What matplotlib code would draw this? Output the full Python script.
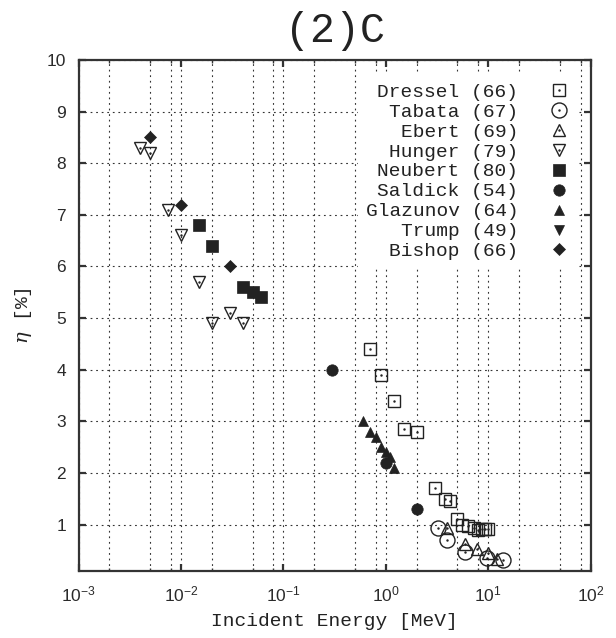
import matplotlib
matplotlib.use('Agg')
import matplotlib.pyplot as plt
from matplotlib.ticker import LogLocator, FixedLocator, NullFormatter
from matplotlib.lines import Line2D
from matplotlib.legend_handler import HandlerTuple

plt.rcParams['font.family'] = ['Liberation Sans', 'DejaVu Sans']
plt.rcParams['mathtext.fontset'] = 'custom'
plt.rcParams['mathtext.rm'] = 'Liberation Sans'
plt.rcParams['mathtext.it'] = 'DejaVu Serif:italic'

# ---------------- data ----------------
dressel_E = [0.7, 0.9, 1.2, 1.5, 2.0, 3.0, 3.8, 4.2, 5.0, 5.6, 6.3, 7.2, 8.0, 8.6, 9.2, 10.0]
dressel_eta = [4.4, 3.9, 3.4, 2.85, 2.8, 1.7, 1.5, 1.45, 1.1, 1.0, 0.97, 0.94, 0.90, 0.91, 0.92, 0.92]

tabata_E = [3.2, 4.0, 6.0, 9.8, 14.0]
tabata_eta = [0.94, 0.70, 0.47, 0.35, 0.32]

ebert_E = [4.0, 5.9, 7.8, 10.0, 12.3]
ebert_eta = [0.93, 0.63, 0.53, 0.45, 0.33]

hunger_E = [0.004, 0.005, 0.0075, 0.01, 0.015, 0.02, 0.03, 0.04]
hunger_eta = [8.3, 8.2, 7.1, 6.6, 5.7, 4.9, 5.1, 4.9]

neubert_E = [0.015, 0.02, 0.04, 0.05, 0.06]
neubert_eta = [6.8, 6.4, 5.6, 5.5, 5.4]

saldick_E = [0.3, 1.0, 2.0]
saldick_eta = [4.0, 2.2, 1.3]

glazunov_E = [0.6, 0.7, 0.8, 0.9, 1.0, 1.1, 1.2]
glazunov_eta = [3.0, 2.8, 2.7, 2.5, 2.4, 2.3, 2.1]

trump_E = []
trump_eta = []

bishop_E = [0.005, 0.01, 0.03]
bishop_eta = [8.5, 7.2, 6.0]

labels = ['Dressel (66)', 'Tabata (67)', 'Ebert (69)', 'Hunger (79)', 'Neubert (80)',
          'Saldick (54)', 'Glazunov (64)', 'Trump (49)', 'Bishop (66)']
x_major = [1e-3, 1e-2, 1e-1, 1e0, 1e1, 1e2]
x_major_labels = [r'$\mathdefault{10^{-3}}$', r'$\mathdefault{10^{-2}}$', r'$\mathdefault{10^{-1}}$',
                  r'$\mathdefault{10^{0}}$', r'$\mathdefault{10^{1}}$', r'$\mathdefault{10^{2}}$']
y_ticks = [1, 2, 3, 4, 5, 6, 7, 8, 9, 10]

# ---------------- figure ----------------
fig = plt.figure(figsize=(6.16, 6.38), dpi=100)
ax = fig.add_axes([0.1276, 0.105, 0.8312, 0.801])

K = '#222222'
series = [
    (dressel_E, dressel_eta, dict(marker='s', ms=8.6, mfc='none', mec=K, mew=1.0), True),
    (tabata_E, tabata_eta, dict(marker='o', ms=10.8, mfc='none', mec=K, mew=1.0), True),
    (ebert_E, ebert_eta, dict(marker='^', ms=8.0, mfc='none', mec=K, mew=1.0), True),
    (hunger_E, hunger_eta, dict(marker='v', ms=8.8, mfc='none', mec=K, mew=1.0), True),
    (neubert_E, neubert_eta, dict(marker='s', ms=8.4, mfc=K, mec=K, mew=0.5), False),
    (saldick_E, saldick_eta, dict(marker='o', ms=8.2, mfc=K, mec=K, mew=0.5), False),
    (glazunov_E, glazunov_eta, dict(marker='^', ms=7.4, mfc=K, mec=K, mew=0.5), False),
    (trump_E, trump_eta, dict(marker='v', ms=7.4, mfc=K, mec=K, mew=0.5), False),
    (bishop_E, bishop_eta, dict(marker='D', ms=6.0, mfc=K, mec=K, mew=0.5), False),
]

handles = []
for (E, eta, st, dotted), lab in zip(series, labels):
    ax.plot(E, eta, ls='none', zorder=3, **st)
    h = Line2D([], [], ls='none', **st)
    if dotted:
        ax.plot(E, eta, ls='none', marker='.', ms=1.5, color=K, zorder=4)
        d = Line2D([], [], ls='none', marker='.', ms=1.5, color=K)
        handles.append((h, d))
    else:
        handles.append(h)

ax.set_xscale('log')
ax.set_xlim(1e-3, 1e2)
ax.set_ylim(0.1, 10)

ax.set_xticks(x_major)
ax.set_xticklabels(x_major_labels)
ax.xaxis.set_minor_locator(LogLocator(base=10, subs=[2, 5, 8]))
ax.xaxis.set_minor_formatter(NullFormatter())
ax.set_yticks(y_ticks)
ax.set_yticklabels([str(v) for v in y_ticks])

gridstyle = dict(ls=(0, (1.6, 3.4)), lw=0.8, color='#333333')
ax.grid(which='both', axis='x', **gridstyle)
ax.grid(which='major', axis='y', **gridstyle)
ax.set_axisbelow(True)

for s in ax.spines.values():
    s.set_linewidth(1.6)
    s.set_color('#333333')

ax.tick_params(which='major', direction='in', top=True, right=True, length=5, width=1.6,
               color='#333333', labelsize=12.5, labelcolor='#2a2a2a')
ax.tick_params(which='minor', direction='in', top=True, right=True, length=2.5, width=1.0,
               color='#333333')
ax.tick_params(axis='y', pad=9)
ax.tick_params(axis='x', pad=10)

mono = 'Liberation Mono'
ax.set_xlabel('Incident Energy [MeV]', family=mono, fontsize=14, color='#222222', labelpad=6)
ax.set_ylabel(r'$\eta$ [%]', family=mono, fontsize=14, color='#222222', labelpad=9)
ax.set_title('(2)C', family=mono, fontsize=30, color='#222222', pad=13)

leg = ax.legend(handles, labels, loc='upper right', bbox_to_anchor=(0.992, 0.989),
                markerfirst=False, prop={'family': mono, 'size': 14},
                handlelength=1.0, handletextpad=1.6, labelspacing=0.12,
                borderpad=0.4, frameon=True, fancybox=False, framealpha=1.0,
                handler_map={tuple: HandlerTuple(ndivide=1)})
leg.get_frame().set_edgecolor('none')
leg.get_frame().set_facecolor('white')
for t in leg.get_texts():
    t.set_color('#222222')

fig.savefig('out.png', dpi=100)
